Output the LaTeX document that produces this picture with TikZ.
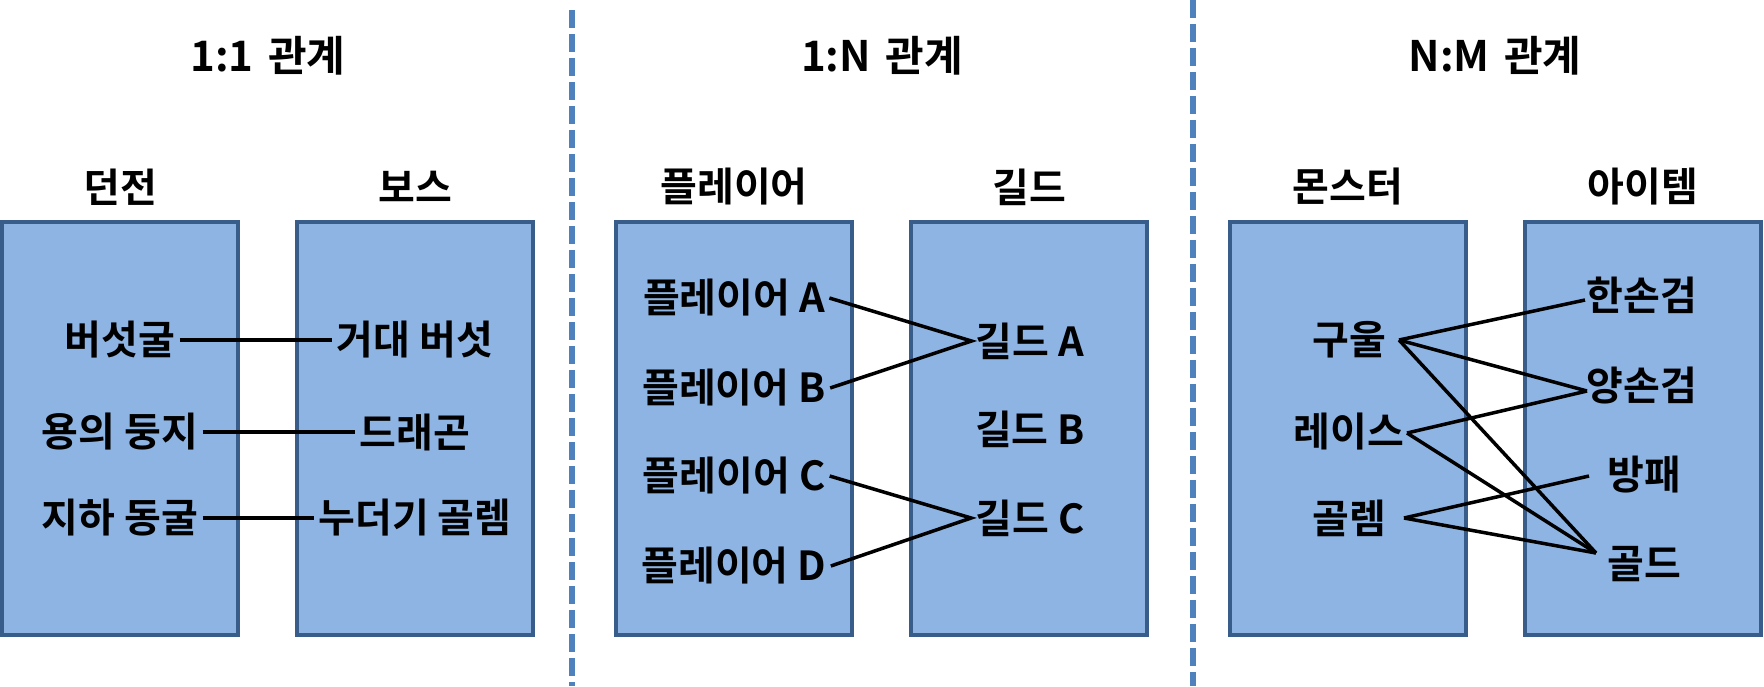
\documentclass[tikz,border=0pt]{standalone}
\usepackage{fontspec}
\newfontfamily\krfont{Noto Sans CJK KR Bold}
\definecolor{boxfill}{HTML}{8EB4E3}
\definecolor{boxline}{HTML}{385D8A}
\definecolor{divblue}{HTML}{4F81BD}
\begin{document}
\begin{tikzpicture}[x=0.5pt,y=-0.5pt,
  txt/.style={font=\krfont\fontsize{20}{24}\selectfont, inner sep=2pt, text=black},
  titletxt/.style={font=\krfont\fontsize{21}{25}\selectfont, inner sep=2pt, text=black},
  tablebox/.style={draw=boxline, fill=boxfill, line width=2pt, minimum width=118pt, minimum height=206.5pt, inner sep=0pt},
  link/.style={line width=1.75pt, draw=black},
  divider/.style={draw=divblue, line width=3pt, dash pattern=on 9pt off 3pt}]
\useasboundingbox (0,0) rectangle (1764,686);

% dividers
\coordinate (dv1top) at (572,10);
\coordinate (dv1bot) at (572,686);
\coordinate (dv2top) at (1193,0);
\coordinate (dv2bot) at (1193,686);
\draw[divider] (dv1top) -- (dv1bot);
\draw[divider] (dv2top) -- (dv2bot);

% boxes
\node[tablebox] (b1) at (120,428.5) {};
\node[tablebox] (b2) at (415,428.5) {};
\node[tablebox] (b3) at (734,428.5) {};
\node[tablebox] (b4) at (1029,428.5) {};
\node[tablebox] (b5) at (1348,428.5) {};
\node[tablebox] (b6) at (1643,428.5) {};

% titles
\node[titletxt] (t1) at (268,56) {1:1\hspace{0.35em}관계};
\node[titletxt] (t2) at (882,56) {1:N\hspace{0.35em}관계};
\node[titletxt] (t3) at (1495,56) {N:M\hspace{0.35em}관계};

% headers
\node[txt] (h1) at (120,187) {던전};
\node[txt] (h2) at (415,187) {보스};
\node[txt] (h3) at (734,187) {플레이어};
\node[txt] (h4) at (1029,187) {길드};
\node[txt] (h5) at (1348,187) {몬스터};
\node[txt] (h6) at (1643,187) {아이템};

% 1:1
\node[txt] (d1) at (120,340) {버섯굴};
\node[txt] (d2) at (120,432) {용의 둥지};
\node[txt] (d3) at (120,518) {지하 동굴};
\node[txt] (s1) at (415,340) {거대 버섯};
\node[txt] (s2) at (415,432) {드래곤};
\node[txt] (s3) at (415,518) {누더기 골렘};
\draw[link] (d1.east) -- (s1.west);
\draw[link] (d2.east) -- (s2.west);
\draw[link] (d3.east) -- (s3.west);

% 1:N
\node[txt] (p1) at (734,298) {플레이어 A};
\node[txt] (p2) at (734,388) {플레이어 B};
\node[txt] (p3) at (734,476) {플레이어 C};
\node[txt] (p4) at (734,566) {플레이어 D};
\node[txt] (g1) at (1030,341) {길드 A};
\node[txt] (g2) at (1030,429) {길드 B};
\node[txt] (g3) at (1030,518) {길드 C};
\draw[link] (p1.east) -- (g1.west) -- (p2.east);
\draw[link] (p3.east) -- (g3.west) -- (p4.east);

% N:M
\node[txt] (m1) at (1349,340) {구울};
\node[txt] (m2) at (1349,432) {레이스};
\node[txt] (m3) at (1349,518) {골렘};
\node[txt] (i1) at (1642,295) {한손검};
\node[txt] (i2) at (1642,386) {양손검};
\node[txt] (i3) at (1644,475) {방패};
\node[txt] (i4) at (1644,564) {골드};
\coordinate (m1out) at ([xshift=25pt]m1.center);
\coordinate (m2out) at ([xshift=29pt,yshift=-0.5pt]m2.center);
\coordinate (m3out) at ([xshift=27.5pt]m3.center);
\coordinate (i1in) at ([xshift=-28.5pt,yshift=-2.5pt]i1.center);
\coordinate (i2in) at ([xshift=-27.5pt,yshift=-2.5pt]i2.center);
\coordinate (i3in) at ([xshift=-27.5pt,yshift=-0.5pt]i3.center);
\coordinate (i4in) at ([xshift=-24pt,yshift=5.5pt]i4.center);
\draw[link] (m1out) -- (i1in);
\draw[link] (m1out) -- (i2in);
\draw[link] (m1out) -- (i4in);
\draw[link] (m2out) -- (i2in);
\draw[link] (m2out) -- (i4in);
\draw[link] (m3out) -- (i3in);
\draw[link] (m3out) -- (i4in);
\end{tikzpicture}
\end{document}
